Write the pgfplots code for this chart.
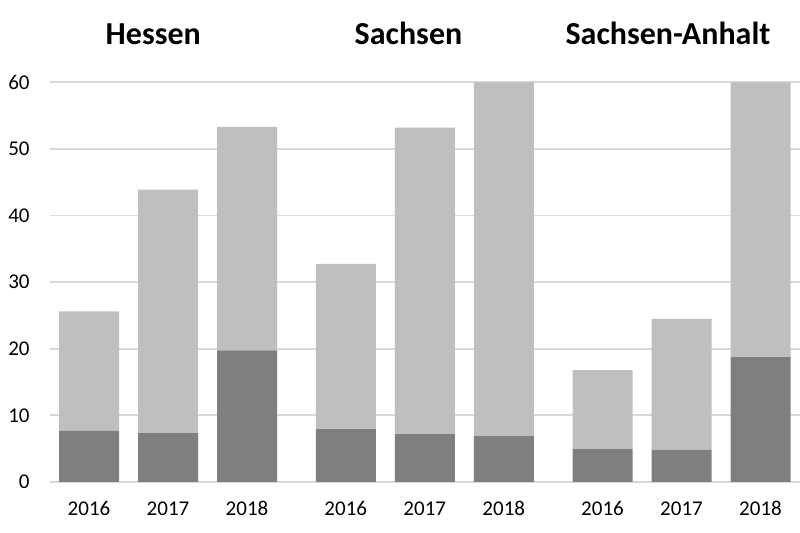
\documentclass[border=0pt]{standalone}
\usepackage{pgfplots}
\pgfplotsset{compat=1.18}
\usepackage{pgfplotstable}
\usepackage{fontspec}
\setmainfont{Carlito}

\definecolor{darkbar}{HTML}{7F7F7F}
\definecolor{lightbar}{HTML}{BFBFBF}
\definecolor{gridgray}{HTML}{D9D9D9}

% x positions of the bars: three years per Land, with a wider gap between Länder
\pgfplotstableread{
x     base   rest
0     7.7    17.9
1     7.35   36.55
2     19.75  33.55
3.25  7.95   24.8
4.25  7.2    46.0
5.25  6.9    53.1
6.5   4.95   11.85
7.5   4.85   19.65
8.5   18.75  41.25
}\datatable

\begin{document}
\begin{tikzpicture}
\begin{axis}[
  at={(25pt,25.5pt)}, anchor=south west,
  scale only axis,
  width=375pt, height=199.85pt,
  xmin=-0.494, xmax=9.0,
  ymin=0, ymax=60,
  ybar stacked,
  bar width=30pt,
  xtick={0,1,2,3.25,4.25,5.25,6.5,7.5,8.5},
  xticklabels={2016,2017,2018,2016,2017,2018,2016,2017,2018},
  ytick={0,10,20,30,40,50,60},
  major tick length=0pt,
  axis line style={draw=none},
  ymajorgrids,
  grid style={color=gridgray, line width=0.9pt},
  /pgf/number format/assume math mode=true,
  ticklabel style={font=\fontsize{10.5}{12}\selectfont, text=black, inner sep=0pt},
  xticklabel style={anchor=base, yshift=-16.85pt},
  yticklabel style={anchor=east, xshift=-10pt},
  clip=false,
]
\addplot[fill=darkbar, draw=none] table[x=x, y=base] {\datatable};
\addplot[fill=lightbar, draw=none] table[x=x, y=rest] {\datatable};
\end{axis}
\begin{scope}[every node/.style={font=\fontsize{16}{19}\selectfont\bfseries, anchor=base, inner sep=0pt}]
  \node at (76.65pt,244pt) {Hessen};
  \node at (204.25pt,244pt) {Sachsen};
  \node at (334pt,244pt) {Sachsen-Anhalt};
\end{scope}
\pgfresetboundingbox
\useasboundingbox (0,0) rectangle (400pt,266.5pt);
\end{tikzpicture}
\end{document}
